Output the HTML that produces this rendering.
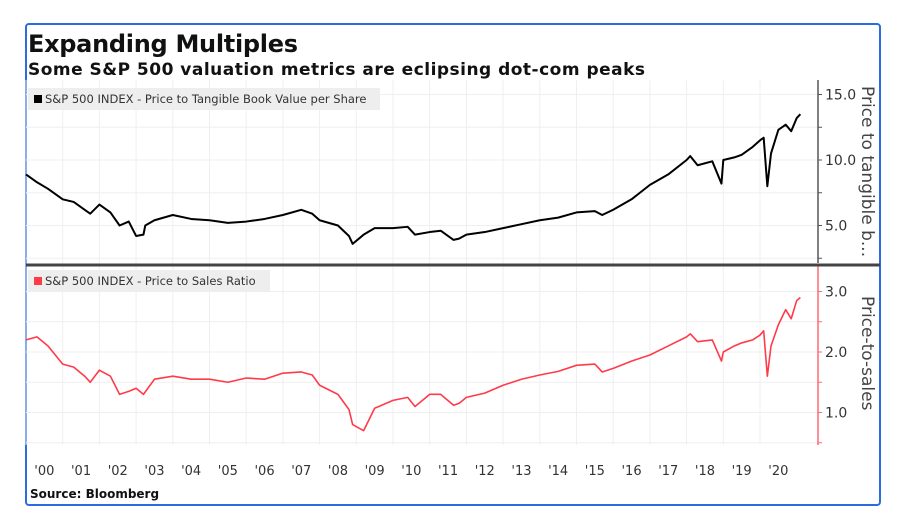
<!DOCTYPE html>
<html><head><meta charset="utf-8"><style>
html,body{margin:0;padding:0;background:#fff;}
svg{display:block;font-family:"DejaVu Sans","Liberation Sans",sans-serif;}
</style></head><body>
<svg id="chart" width="903" height="531" viewBox="0 0 903 531">
<rect x="26" y="24" width="854" height="481" fill="#fff" stroke="#2a6de0" stroke-width="2" rx="3"/>
<text x="28" y="52" font-size="24" font-weight="bold" fill="#111" textLength="270">Expanding Multiples</text>
<text x="28" y="75" font-size="17" font-weight="bold" fill="#111" textLength="617">Some S&amp;P 500 valuation metrics are eclipsing dot-com peaks</text>
<g id="grid"></g>
<rect x="28" y="88" width="352" height="22" fill="#eeeeee"/>
<rect x="34" y="95" width="8" height="8" fill="#000"/>
<text x="45" y="103" font-size="11.5" fill="#333">S&amp;P 500 INDEX - Price to Tangible Book Value per Share</text>
<rect x="28" y="270" width="242" height="22" fill="#eeeeee"/>
<rect x="34" y="277" width="8" height="8" fill="#ff3b4a"/>
<text x="45" y="285" font-size="11.5" fill="#333">S&amp;P 500 INDEX - Price to Sales Ratio</text>
<g id="marks"></g>
<line x1="26" y1="265" x2="880" y2="265" stroke="#444" stroke-width="3"/>
<text transform="translate(862,86) rotate(90)" font-size="17" fill="#444">Price to tangible b...</text>
<text transform="translate(862,296) rotate(90)" font-size="17" fill="#444">Price-to-sales</text>
<text x="30" y="498" font-size="12" font-weight="bold" fill="#111">Source: Bloomberg</text>
</svg>
<script>
const years = ["'00","'01","'02","'03","'04","'05","'06","'07","'08","'09","'10","'11","'12","'13","'14","'15","'16","'17","'18","'19","'20"];
const topTicks = [5, 10, 15];
const topTickLabels = ["5.0","10.0","15.0"];
const botTicks = [1, 2, 3];
const botTickLabels = ["1.0","2.0","3.0"];
const tbvDates = [2000,2000.3,2000.6,2001,2001.3,2001.6,2001.75,2002,2002.3,2002.55,2002.8,2003,2003.2,2003.25,2003.5,2004,2004.5,2005,2005.5,2006,2006.5,2007,2007.5,2007.8,2008,2008.5,2008.8,2008.9,2009.2,2009.5,2010,2010.4,2010.6,2011,2011.3,2011.65,2011.8,2012,2012.5,2013,2013.5,2014,2014.5,2015,2015.5,2015.7,2016,2016.5,2017,2017.5,2018,2018.1,2018.3,2018.7,2018.95,2019,2019.3,2019.5,2019.8,2020,2020.1,2020.2,2020.3,2020.5,2020.7,2020.85,2021,2021.1];
const tbvValues = [8.9,8.3,7.8,7.0,6.8,6.2,5.9,6.6,6.0,5.0,5.3,4.2,4.3,5.0,5.4,5.8,5.5,5.4,5.2,5.3,5.5,5.8,6.2,5.9,5.4,5.0,4.2,3.6,4.3,4.8,4.8,4.9,4.3,4.5,4.6,3.9,4.0,4.3,4.5,4.8,5.1,5.4,5.6,6.0,6.1,5.8,6.2,7.0,8.1,8.9,10.0,10.3,9.6,9.9,8.2,10.0,10.2,10.4,11.0,11.5,11.7,8.0,10.5,12.3,12.7,12.2,13.2,13.5];
const psDates = [2000,2000.3,2000.6,2001,2001.3,2001.6,2001.75,2002,2002.3,2002.55,2002.8,2003,2003.2,2003.5,2004,2004.5,2005,2005.5,2006,2006.5,2007,2007.5,2007.8,2008,2008.5,2008.8,2008.9,2009.2,2009.5,2010,2010.4,2010.6,2011,2011.3,2011.65,2011.8,2012,2012.5,2013,2013.5,2014,2014.5,2015,2015.5,2015.7,2016,2016.5,2017,2017.5,2018,2018.1,2018.3,2018.7,2018.95,2019,2019.3,2019.5,2019.8,2020,2020.1,2020.2,2020.3,2020.5,2020.7,2020.85,2021,2021.1];
const psValues = [2.2,2.25,2.1,1.8,1.75,1.6,1.5,1.7,1.6,1.3,1.35,1.4,1.3,1.55,1.6,1.55,1.55,1.5,1.57,1.55,1.65,1.67,1.62,1.45,1.3,1.05,0.8,0.7,1.07,1.2,1.25,1.1,1.3,1.3,1.12,1.15,1.25,1.32,1.45,1.55,1.62,1.68,1.78,1.8,1.67,1.73,1.85,1.95,2.1,2.25,2.3,2.17,2.2,1.85,2.0,2.1,2.15,2.2,2.28,2.35,1.6,2.1,2.45,2.7,2.55,2.85,2.9];

const NS="http://www.w3.org/2000/svg";
const grid=document.getElementById('grid'), marks=document.getElementById('marks');
const xs = t => 26 + 36.7*(t-2000);
const yTop = v => 160 - (v-10)*13.1;
const yBot = v => 352 - (v-2)*60.5;
function mk(tag, attrs, parent){const e=document.createElementNS(NS,tag);for(const k in attrs)e.setAttribute(k,attrs[k]);parent.appendChild(e);return e;}

years.forEach((lab,i)=>{
  const x=xs(2000+i);
  const g=mk('line',{x1:x,y1:80,x2:x,y2:445,stroke:'#efefef','stroke-width':1},grid);
  
  
  const t=mk('text',{x:xs(2000.5+i),y:475,'font-size':13,fill:'#333','text-anchor':'middle'},grid);
  t.textContent=lab;
  
  
});
[2.5,5,7.5,10,12.5,15].forEach(v=>{
  const y=yTop(v);
  const g=mk('line',{x1:26,y1:y,x2:818,y2:y,stroke:'#efefef','stroke-width':1},grid);
  
  
  const tk=mk('line',{x1:818,y1:y,x2:822,y2:y,stroke:'#555'},grid);
  
  
});
[0.5,1,1.5,2,2.5,3].forEach(v=>{
  const y=yBot(v);
  const g=mk('line',{x1:26,y1:y,x2:818,y2:y,stroke:'#efefef','stroke-width':1},grid);
  
  
  const tk=mk('line',{x1:818,y1:y,x2:822,y2:y,stroke:'#ff6a75'},grid);
  
  
});
topTicks.forEach((v,i)=>{
  const t=mk('text',{x:825,y:yTop(v)+5,'font-size':14,fill:'#333'},grid);
  t.textContent=topTickLabels[i];
  
  
});
botTicks.forEach((v,i)=>{
  const t=mk('text',{x:825,y:yBot(v)+5,'font-size':14,fill:'#333'},grid);
  t.textContent=botTickLabels[i];
  
  
});
const ax1=mk('line',{x1:818,y1:80,x2:818,y2:263,stroke:'#555','stroke-width':1.5},grid);


const ax2=mk('line',{x1:818,y1:265,x2:818,y2:445,stroke:'#ff6a75','stroke-width':1.5},grid);



const p1=mk('polyline',{points:tbvDates.map((d,i)=>xs(d)+','+yTop(tbvValues[i])).join(' '),fill:'none',stroke:'#000','stroke-width':2,'stroke-linejoin':'round'},marks);


const p2=mk('polyline',{points:psDates.map((d,i)=>xs(d)+','+yBot(psValues[i])).join(' '),fill:'none',stroke:'#ff3b4a','stroke-width':1.6,'stroke-linejoin':'round'},marks);


</script>
</body></html>
